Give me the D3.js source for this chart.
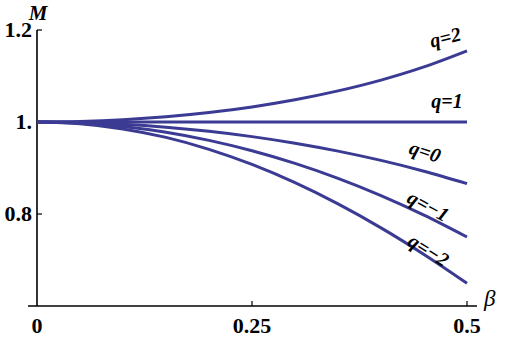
<!DOCTYPE html>
<html>
<head>
<meta charset="utf-8">
<script src="https://cdn.jsdelivr.net/npm/d3@7"></script>
<style>
  html, body { margin: 0; padding: 0; background: #fff; }
  svg { display: block; }
  svg text { font-family: "Times New Roman", "Liberation Serif", Times, serif; }
</style>
</head>
<body>
<div id="chart"></div>
<script>
const betas = [0, 0.05, 0.1, 0.15, 0.2, 0.25, 0.3, 0.35, 0.4, 0.45, 0.5];

const series = [
  { q: '2', values: [1, 1.0013, 1.005, 1.0114, 1.0206, 1.0328, 1.0483, 1.0676, 1.0911, 1.1198, 1.1547] },
  { q: '1', values: [1, 1, 1, 1, 1, 1, 1, 1, 1, 1, 1] },
  { q: '0', values: [1, 0.9987, 0.995, 0.9887, 0.9798, 0.9682, 0.9539, 0.9367, 0.9165, 0.893, 0.866] },
  { q: '\u22121', values: [1, 0.9975, 0.99, 0.9775, 0.96, 0.9375, 0.91, 0.8775, 0.84, 0.7975, 0.75] },
  { q: '\u22122', values: [1, 0.9963, 0.985, 0.9665, 0.9406, 0.9077, 0.8681, 0.822, 0.7699, 0.7122, 0.6495] },
];

const xTicks = [0, 0.25, 0.5];
const xTickLabels = ['0', '0.25', '0.5'];
const yTicks = [0.8, 1.0, 1.2];
const yTickLabels = ['0.8', '1.', '1.2'];

// label placement near each curve end: [x, y, rotation]
const labelPos = [[447, 44, -14], [447, 108, 0], [423, 158, 18], [425, 212, 28], [425, 256, 32]];

const width = 505, height = 342;
const x = d3.scaleLinear().domain([0, 0.5]).range([37, 467]);
const y = d3.scaleLinear().domain([0.6, 1.2]).range([306, 30]);

const svg = d3.select('#chart').append('svg')
  .attr('width', width)
  .attr('height', height);

// axes lines
svg.append('line')
  .attr('x1', 28).attr('x2', 477)
  .attr('y1', y(0.6)).attr('y2', y(0.6))
  .attr('stroke', '#000').attr('stroke-width', 1.6);
svg.append('line')
  .attr('x1', x(0)).attr('x2', x(0))
  .attr('y1', y(0.6)).attr('y2', y(1.2))
  .attr('stroke', '#000').attr('stroke-width', 1.6);

svg.selectAll('.xtick').data(xTicks.slice(1)).enter().append('line')
  .attr('x1', (d) => x(d)).attr('x2', (d) => x(d))
  .attr('y1', y(0.6)).attr('y2', y(0.6) - 5)
  .attr('stroke', '#000').attr('stroke-width', 1.2);

svg.selectAll('.ytick').data(yTicks).enter().append('line')
  .attr('x1', x(0)).attr('x2', x(0) + 5)
  .attr('y1', (d) => y(d)).attr('y2', (d) => y(d))
  .attr('stroke', '#000').attr('stroke-width', 1.2);

svg.selectAll('.xlabel').data(xTicks).enter().append('text')
  .attr('x', (d) => x(d))
  .attr('y', 333)
  .attr('text-anchor', 'middle')
  .attr('font-size', 22)
  .attr('font-weight', 'bold')
  .text((d, i) => xTickLabels[i]);

svg.selectAll('.ylabel').data(yTicks).enter().append('text')
  .attr('x', 32)
  .attr('y', (d) => y(d) + 7)
  .attr('text-anchor', 'end')
  .attr('font-size', 22)
  .attr('font-weight', 'bold')
  .text((d, i) => yTickLabels[i]);

svg.append('text')
  .attr('x', 38).attr('y', 20)
  .attr('text-anchor', 'middle')
  .attr('font-size', 21)
  .attr('font-weight', 'bold')
  .attr('font-style', 'italic')
  .text('M');

svg.append('text')
  .attr('x', 484).attr('y', 306)
  .attr('font-size', 23)
  .attr('font-style', 'italic')
  .text('\u03b2');

const line = d3.line()
  .x((d, i) => x(betas[i]))
  .y((d) => y(d))
  .curve(d3.curveMonotoneX);

svg.append('g')
  .attr('fill', 'none')
  .attr('stroke', '#3b3b94')
  .attr('stroke-width', 3)
  .selectAll('path')
  .data(series)
  .enter().append('path')
  .attr('d', (d) => line(d.values));

svg.selectAll('.qlabel').data(series).enter().append('text')
  .attr('transform', (d, i) => `translate(${labelPos[i][0]},${labelPos[i][1]}) rotate(${labelPos[i][2]})`)
  .attr('text-anchor', 'middle')
  .attr('font-size', 20)
  .attr('font-weight', 'bold')
  .attr('font-style', 'italic')
  .text((d) => `q=${d.q}`);
</script>
</body>
</html>
